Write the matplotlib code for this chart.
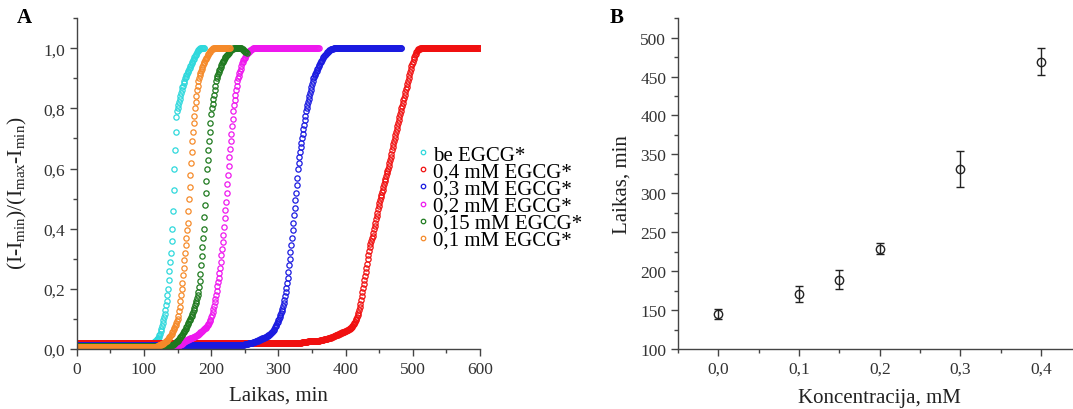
import numpy as np
import matplotlib
matplotlib.use('Agg')
import matplotlib.pyplot as plt
from matplotlib.ticker import MultipleLocator, FuncFormatter

plt.rcParams['font.family'] = ['Liberation Serif', 'DejaVu Serif']
plt.rcParams['mathtext.fontset'] = 'custom'
plt.rcParams['mathtext.rm'] = 'Liberation Serif'
plt.rcParams['mathtext.it'] = 'Liberation Serif:italic'

# --- A: normalised signal vs time, one reading per minute ---
cyan_y = [0.02] * 115 + [
    0.022, 0.024, 0.026, 0.028, 0.03, 0.032, 0.035, 0.04, 0.045, 0.05,
    0.06, 0.065, 0.075, 0.085, 0.095, 0.105, 0.115, 0.13, 0.145, 0.16,
    0.18, 0.2, 0.23, 0.26, 0.29, 0.32, 0.36, 0.4, 0.46, 0.53,
    0.6, 0.66, 0.72, 0.77, 0.79, 0.8, 0.81, 0.82, 0.83, 0.84,
    0.85, 0.86, 0.87, 0.875, 0.885, 0.89, 0.9, 0.905, 0.91, 0.915,
    0.92, 0.925, 0.93, 0.935, 0.94, 0.945, 0.95, 0.955, 0.96, 0.965,
    0.97, 0.974, 0.978, 0.982, 0.986, 0.99, 0.993, 0.996, 0.998] + [1.0] * 7

red_y = [0.02] * 330 + [
    0.02, 0.02, 0.021, 0.021, 0.021, 0.022, 0.022, 0.022, 0.023, 0.023,
    0.023, 0.024, 0.024, 0.024, 0.025, 0.025, 0.025, 0.025, 0.026, 0.026,
    0.026, 0.026, 0.027, 0.027, 0.027, 0.027, 0.028, 0.028, 0.028, 0.028,
    0.028, 0.028, 0.029, 0.029, 0.03, 0.03, 0.031, 0.031, 0.032, 0.032,
    0.033, 0.033, 0.034, 0.034, 0.035, 0.035, 0.036, 0.037, 0.038, 0.039,
    0.04, 0.041, 0.042, 0.043, 0.044, 0.045, 0.046, 0.047, 0.048, 0.049,
    0.05, 0.051, 0.052, 0.053, 0.054, 0.055, 0.056, 0.057, 0.058, 0.059,
    0.06, 0.061, 0.062, 0.063, 0.064, 0.065, 0.067, 0.069, 0.071, 0.073,
    0.076, 0.079, 0.082, 0.086, 0.09, 0.095, 0.1, 0.106, 0.113, 0.121,
    0.13, 0.14, 0.151, 0.163, 0.176, 0.189, 0.202, 0.215, 0.228, 0.242,
    0.256, 0.27, 0.284, 0.298, 0.312, 0.326, 0.338, 0.35, 0.36, 0.37,
    0.376, 0.387, 0.398, 0.409, 0.42, 0.431, 0.442, 0.453, 0.464, 0.475,
    0.485, 0.495, 0.504, 0.513, 0.522, 0.53, 0.539, 0.548, 0.557, 0.566,
    0.575, 0.584, 0.592, 0.6, 0.61, 0.62, 0.63, 0.64, 0.65, 0.66,
    0.67, 0.68, 0.69, 0.7, 0.71, 0.72, 0.73, 0.74, 0.75, 0.76,
    0.77, 0.78, 0.79, 0.8, 0.809, 0.818, 0.827, 0.836, 0.845, 0.854,
    0.863, 0.872, 0.881, 0.89, 0.9, 0.91, 0.92, 0.93, 0.94, 0.948,
    0.955, 0.963, 0.97, 0.976, 0.982, 0.987, 0.99, 0.993, 0.996, 0.998,
    0.999] + [1.0] * 90

blue_y = [0.015] * 250 + [
    0.016, 0.016, 0.017, 0.017, 0.018, 0.018, 0.019, 0.019, 0.02, 0.02,
    0.021, 0.021, 0.022, 0.022, 0.023, 0.024, 0.025, 0.026, 0.027, 0.028,
    0.029, 0.03, 0.031, 0.032, 0.033, 0.034, 0.035, 0.036, 0.037, 0.038,
    0.039, 0.04, 0.041, 0.042, 0.043, 0.045, 0.047, 0.049, 0.051, 0.053,
    0.055, 0.058, 0.061, 0.064, 0.068, 0.072, 0.076, 0.08, 0.085, 0.09,
    0.095, 0.1, 0.106, 0.112, 0.119, 0.126, 0.134, 0.143, 0.153, 0.164,
    0.175, 0.188, 0.202, 0.218, 0.236, 0.256, 0.278, 0.3, 0.323, 0.346,
    0.37, 0.395, 0.42, 0.445, 0.47, 0.495, 0.52, 0.545, 0.57, 0.6,
    0.62, 0.64, 0.655, 0.67, 0.685, 0.7, 0.715, 0.73, 0.745, 0.76,
    0.775, 0.79, 0.8, 0.81, 0.82, 0.83, 0.84, 0.85, 0.86, 0.87,
    0.88, 0.89, 0.9, 0.905, 0.91, 0.915, 0.92, 0.925, 0.93, 0.935,
    0.94, 0.945, 0.95, 0.954, 0.958, 0.962, 0.966, 0.97, 0.973, 0.976,
    0.979, 0.982, 0.985, 0.987, 0.989, 0.991, 0.993, 0.995, 0.996, 0.997,
    0.998, 0.999] + [1.0] * 102

magenta_y = [0.01] * 150 + [
    0.011, 0.012, 0.013, 0.014, 0.015, 0.016, 0.017, 0.018, 0.02, 0.022,
    0.024, 0.025, 0.027, 0.029, 0.03, 0.031, 0.032, 0.033, 0.034, 0.035,
    0.036, 0.037, 0.038, 0.039, 0.04, 0.041, 0.042, 0.043, 0.044, 0.045,
    0.047, 0.049, 0.051, 0.053, 0.055, 0.057, 0.059, 0.061, 0.063, 0.065,
    0.067, 0.069, 0.071, 0.073, 0.076, 0.079, 0.083, 0.087, 0.092, 0.098,
    0.105, 0.113, 0.122, 0.132, 0.143, 0.155, 0.167, 0.18, 0.194, 0.208,
    0.222, 0.237, 0.252, 0.268, 0.29, 0.312, 0.334, 0.356, 0.378, 0.406,
    0.434, 0.462, 0.49, 0.52, 0.55, 0.58, 0.61, 0.64, 0.665, 0.69,
    0.715, 0.74, 0.765, 0.79, 0.81, 0.828, 0.845, 0.86, 0.875, 0.89,
    0.9, 0.908, 0.916, 0.924, 0.932, 0.94, 0.95, 0.955, 0.96, 0.964,
    0.968, 0.972, 0.976, 0.98, 0.983, 0.986, 0.989, 0.991, 0.993, 0.995,
    0.997, 0.999] + [1.0] * 99

green_y = [0.01] * 140 + [
    0.012, 0.013, 0.014, 0.015, 0.016, 0.018, 0.02, 0.022, 0.024, 0.026,
    0.028, 0.03, 0.033, 0.036, 0.039, 0.042, 0.045, 0.048, 0.052, 0.056,
    0.06, 0.064, 0.068, 0.072, 0.077, 0.082, 0.087, 0.092, 0.096, 0.1,
    0.105, 0.11, 0.117, 0.124, 0.131, 0.138, 0.145, 0.152, 0.16, 0.168,
    0.178, 0.19, 0.205, 0.225, 0.25, 0.28, 0.31, 0.34, 0.37, 0.4,
    0.44, 0.48, 0.52, 0.56, 0.6, 0.63, 0.66, 0.69, 0.72, 0.75,
    0.78, 0.8, 0.815, 0.83, 0.845, 0.86, 0.875, 0.89, 0.9, 0.907,
    0.914, 0.92, 0.926, 0.932, 0.938, 0.944, 0.95, 0.954, 0.958, 0.962,
    0.966, 0.97, 0.973, 0.976, 0.979, 0.982, 0.985, 0.988, 0.99, 0.993,
    0.995, 0.997, 0.999] + [1.0] * 13 + [
    0.998, 0.996, 0.994, 0.992, 0.99, 0.988, 0.986, 0.985]

orange_y = [0.008] * 120 + [
    0.01, 0.011, 0.012, 0.013, 0.014, 0.015, 0.016, 0.017, 0.018, 0.019,
    0.02, 0.022, 0.024, 0.026, 0.028, 0.03, 0.033, 0.036, 0.039, 0.042,
    0.045, 0.05, 0.055, 0.06, 0.065, 0.07, 0.075, 0.08, 0.087, 0.094,
    0.1, 0.11, 0.125, 0.14, 0.16, 0.18, 0.2, 0.22, 0.245, 0.27,
    0.295, 0.32, 0.345, 0.37, 0.395, 0.42, 0.46, 0.5, 0.54, 0.58,
    0.62, 0.655, 0.69, 0.72, 0.75, 0.775, 0.8, 0.82, 0.84, 0.86,
    0.875, 0.89, 0.9, 0.91, 0.918, 0.925, 0.932, 0.938, 0.944, 0.95,
    0.955, 0.96, 0.964, 0.968, 0.972, 0.976, 0.98, 0.984, 0.988, 0.991,
    0.994, 0.997, 0.999] + [1.0] * 26

series_a = [
    ('be EGCG*', cyan_y, '#2fd8dc'),
    ('0,4 mM EGCG*', red_y, '#f01010'),
    ('0,3 mM EGCG*', blue_y, '#1a1ae0'),
    ('0,2 mM EGCG*', magenta_y, '#ee18ee'),
    ('0,15 mM EGCG*', green_y, '#1f7a1f'),
    ('0,1 mM EGCG*', orange_y, '#f58a2a'),
]

# --- B: lag time vs EGCG concentration ---
conc = [0.0, 0.1, 0.15, 0.2, 0.3, 0.4]
lag_time = [145, 171, 189, 229, 331, 469]
lag_err = [7, 10, 12, 7.5, 23.5, 17.5]

comma = FuncFormatter(lambda v, pos: ('%.1f' % v).replace('.', ','))

fig = plt.figure(figsize=(10.73, 4.10), dpi=100)
ax1 = fig.add_axes([0.0715, 0.1463, 0.3759, 0.807])
ax2 = fig.add_axes([0.6319, 0.1463, 0.3760, 0.807])

for label, y, col in series_a:
    t = np.arange(len(y))
    ax1.plot(t, y, 'o', ms=3.8, mfc='none', mec=col, mew=0.9, label=label)

ax1.set_xlim(0, 600)
ax1.set_ylim(0, 1.1)
ax1.xaxis.set_major_locator(MultipleLocator(100))
ax1.xaxis.set_minor_locator(MultipleLocator(50))
ax1.yaxis.set_major_locator(MultipleLocator(0.2))
ax1.yaxis.set_minor_locator(MultipleLocator(0.1))
ax1.yaxis.set_major_formatter(comma)
ax1.set_xlabel('Laikas, min', fontsize=15, color='#222222', labelpad=6)
ax1.set_ylabel(r'(I-I$_{\mathrm{min}}$)/(I$_{\mathrm{max}}$-I$_{\mathrm{min}}$)',
               fontsize=15.5, color='#222222')
ax1.yaxis.set_label_coords(-0.118, 0.474)
ax1.legend(loc='upper left', bbox_to_anchor=(0.822, 0.648), frameon=False,
           fontsize=15, handlelength=0.4, handletextpad=0.3,
           labelspacing=-0.12, borderpad=0, markerscale=0.85)

ax2.errorbar(conc, lag_time, yerr=lag_err, fmt='o', ms=6, mfc='none',
             mec='#222222', mew=1.0, ecolor='#222222', elinewidth=1.0,
             capsize=3, capthick=1.0)
ax2.set_xlim(-0.05, 0.45)
ax2.set_ylim(100, 525)
ax2.xaxis.set_major_locator(MultipleLocator(0.1))
ax2.xaxis.set_minor_locator(MultipleLocator(0.05))
ax2.yaxis.set_major_locator(MultipleLocator(50))
ax2.yaxis.set_minor_locator(MultipleLocator(25))
ax2.xaxis.set_major_formatter(comma)
ax2.set_xlabel('Koncentracija, mM', fontsize=15, color='#222222', labelpad=8)
ax2.set_ylabel('Laikas, min', fontsize=15, color='#222222', labelpad=6)

for ax in (ax1, ax2):
    for side in ('top', 'right'):
        ax.spines[side].set_visible(False)
    for side in ('left', 'bottom'):
        ax.spines[side].set_color('#444444')
        ax.spines[side].set_linewidth(1.0)
    ax.tick_params(which='major', direction='out', length=5, width=1.0,
                   colors='#444444', labelcolor='#333333', labelsize=12.5)
    ax.tick_params(which='minor', direction='out', length=3, width=1.0,
                   colors='#444444')

fig.text(0.016, 0.955, 'A', fontsize=15, fontweight='bold', ha='left', va='center')
fig.text(0.568, 0.955, 'B', fontsize=15, fontweight='bold', ha='left', va='center')

fig.savefig('out.png', dpi=100)
